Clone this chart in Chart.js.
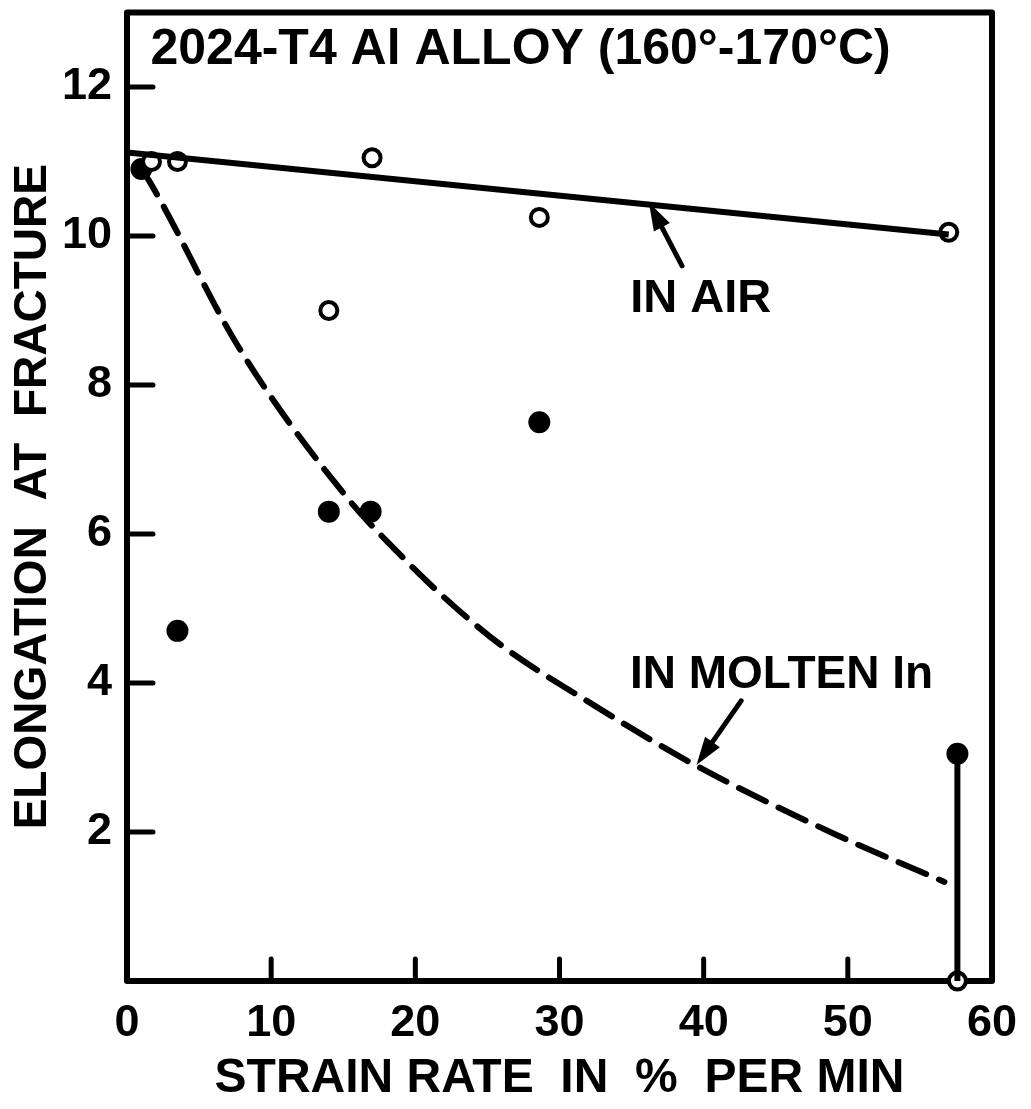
<!DOCTYPE html>
<html>
<head>
<meta charset="utf-8">
<script src="https://cdn.jsdelivr.net/npm/chart.js@4"></script>
<style>
  html, body { margin: 0; padding: 0; background: #fff; }
  #wrap { width: 1031px; height: 1109px; }
</style>
</head>
<body>
<div id="wrap"><canvas id="chart"></canvas></div>
<script>
// axis ticks
const xTicks = [0, 10, 20, 30, 40, 50, 60];
const yTicks = [2, 4, 6, 8, 10, 12];

// measured points, % elongation vs strain rate
const airX = [1.7, 3.5, 14.0, 17.0, 28.6, 57.0, 57.6];
const airY = [11.0, 11.0, 9.0, 11.05, 10.25, 10.05, 0];
const moltenX = [1.0, 3.5, 14.0, 16.9, 28.6, 57.6];
const moltenY = [10.9, 4.7, 6.3, 6.3, 7.5, 3.05];

// drawn curves
const airFitX = [0, 57.0];
const airFitY = [11.12, 10.02];
const moltenFitX = [1.0, 1.6, 7.8, 15.3, 18.7, 22, 26, 31.9, 39.2, 49.0, 56.7];
const moltenFitY = [10.9, 10.72, 8.49, 6.48, 5.77, 5.15, 4.5, 3.76, 2.92, 1.98, 1.33];

// scatter band at the fastest rate
const barX = [57.6, 57.6];
const barY = [3.05, 0];

const FONT = "'Liberation Sans', Arial, sans-serif";

function pts(xs, ys) {
  return xs.map((x, i) => ({ x: x, y: ys[i] }));
}

// box and inward tick marks
const frame = {
  id: 'frame',
  beforeDatasetsDraw(chart) {
    const { ctx, chartArea: a, scales } = chart;
    ctx.save();
    ctx.strokeStyle = '#000';
    ctx.lineWidth = 6;
    ctx.lineJoin = 'round';
    ctx.strokeRect(a.left, a.top, a.right - a.left, a.bottom - a.top);
    ctx.lineWidth = 5;
    ctx.lineCap = 'round';
    ctx.beginPath();
    xTicks.forEach(v => {
      if (v <= 0 || v >= 60) return;
      const px = scales.x.getPixelForValue(v);
      ctx.moveTo(px, a.bottom);
      ctx.lineTo(px, a.bottom - 22);
    });
    yTicks.forEach(v => {
      const py = scales.y.getPixelForValue(v);
      ctx.moveTo(a.left, py);
      ctx.lineTo(a.left + 26, py);
    });
    ctx.stroke();
    ctx.restore();
  }
};

// title, labels and arrows
const notes = {
  id: 'notes',
  afterDatasetsDraw(chart, args, opts) {
    const { ctx, scales } = chart;
    ctx.save();
    ctx.fillStyle = '#000';
    ctx.strokeStyle = '#000';
    ctx.textAlign = 'center';
    ctx.textBaseline = 'middle';
    opts.texts.forEach(t => {
      ctx.font = 'bold ' + t.size + 'px ' + FONT;
      ctx.fillText(t.text, scales.x.getPixelForValue(t.x), scales.y.getPixelForValue(t.y));
    });
    opts.arrows.forEach(r => {
      const x1 = scales.x.getPixelForValue(r.x1), y1 = scales.y.getPixelForValue(r.y1);
      const x2 = scales.x.getPixelForValue(r.x2), y2 = scales.y.getPixelForValue(r.y2);
      const ang = Math.atan2(y2 - y1, x2 - x1);
      ctx.lineWidth = 5;
      ctx.lineCap = 'round';
      ctx.beginPath();
      ctx.moveTo(x1, y1);
      ctx.lineTo(x2 - 18 * Math.cos(ang), y2 - 18 * Math.sin(ang));
      ctx.stroke();
      ctx.beginPath();
      ctx.moveTo(x2, y2);
      ctx.lineTo(x2 - 28 * Math.cos(ang) + 9 * Math.sin(ang), y2 - 28 * Math.sin(ang) - 9 * Math.cos(ang));
      ctx.lineTo(x2 - 28 * Math.cos(ang) - 9 * Math.sin(ang), y2 - 28 * Math.sin(ang) + 9 * Math.cos(ang));
      ctx.closePath();
      ctx.fill();
    });
    ctx.restore();
  }
};

new Chart(document.getElementById('chart'), {
  type: 'scatter',
  data: {
    datasets: [
      {
        label: 'In air (fit)',
        data: pts(airFitX, airFitY),
        showLine: true,
        borderColor: '#000',
        borderWidth: 6,
        pointRadius: 0
      },
      {
        label: 'In molten In (fit)',
        data: pts(moltenFitX, moltenFitY),
        showLine: true,
        borderColor: '#000',
        borderWidth: 6,
        borderDash: [30, 14],
        borderCapStyle: 'round',
        cubicInterpolationMode: 'monotone',
        pointRadius: 0
      },
      {
        label: 'Range',
        data: pts(barX, barY),
        showLine: true,
        borderColor: '#000',
        borderWidth: 6,
        pointRadius: 0
      },
      {
        label: 'In air',
        data: pts(airX, airY),
        clip: 14,
        pointStyle: 'circle',
        pointRadius: 8.5,
        pointBorderWidth: 4,
        pointBackgroundColor: '#fff',
        pointBorderColor: '#000'
      },
      {
        label: 'In molten In',
        data: pts(moltenX, moltenY),
        clip: 14,
        pointStyle: 'circle',
        pointRadius: 11,
        pointBorderWidth: 0,
        pointBackgroundColor: '#000',
        pointBorderColor: '#000'
      }
    ]
  },
  options: {
    responsive: true,
    maintainAspectRatio: false,
    animation: false,
    layout: { padding: { left: 0, top: 10, right: 39, bottom: 0 } },
    plugins: {
      legend: { display: false },
      tooltip: { enabled: false },
      notes: {
        texts: [
          { text: '2024-T4 Al ALLOY (160°-170°C)', x: 27.3, y: 12.5, size: 50 },
          { text: 'IN AIR', x: 39.8, y: 9.16, size: 47 },
          { text: 'IN MOLTEN In', x: 45.4, y: 4.1, size: 46 }
        ],
        arrows: [
          { x1: 38.5, y1: 9.6, x2: 36.2, y2: 10.45 },
          { x1: 42.6, y1: 3.76, x2: 39.5, y2: 2.9 }
        ]
      }
    },
    scales: {
      x: {
        type: 'linear',
        min: 0,
        max: 60,
        grid: { display: false, drawTicks: false },
        border: { display: false },
        afterBuildTicks: s => { s.ticks = xTicks.map(v => ({ value: v })); },
        afterFit: s => {
          s.height = 128;
          s.paddingLeft = 0; s.paddingRight = 0;
        },
        ticks: {
          color: '#000',
          padding: 16,
          maxRotation: 0,
          font: { family: FONT, size: 45, weight: 'bold' }
        },
        title: {
          display: true,
          text: 'STRAIN RATE  IN  %  PER MIN',
          color: '#000',
          font: { family: FONT, size: 48, weight: 'bold', lineHeight: 1 },
          padding: { top: 0, bottom: 6 }
        }
      },
      y: {
        type: 'linear',
        min: 0,
        max: 13,
        grid: { display: false, drawTicks: false },
        border: { display: false },
        afterBuildTicks: s => { s.ticks = yTicks.map(v => ({ value: v })); },
        afterFit: s => {
          s.width = 127;
          s.paddingTop = 0; s.paddingBottom = 0;
        },
        ticks: {
          color: '#000',
          padding: 15,
          font: { family: FONT, size: 45, weight: 'bold' }
        },
        title: {
          display: true,
          text: 'ELONGATION  AT  FRACTURE',
          color: '#000',
          font: { family: FONT, size: 46, weight: 'bold', lineHeight: 1 },
          padding: { top: 10, bottom: 0 }
        }
      }
    }
  },
  plugins: [frame, notes]
});
</script>
</body>
</html>
